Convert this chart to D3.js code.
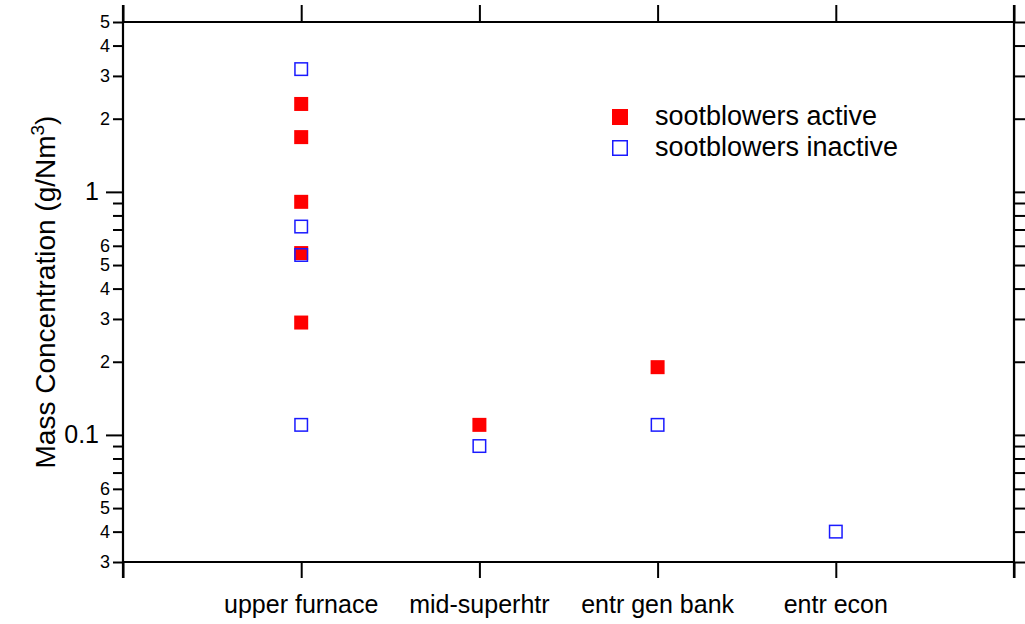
<!DOCTYPE html>
<html lang="en">
<head>
<meta charset="utf-8">
<title>Mass Concentration</title>
<script src="https://cdn.jsdelivr.net/npm/d3@7"></script>
<style>
body { margin: 0; background: white; }
text { font-family: "Liberation Sans", Arial, Helvetica, sans-serif; fill: black; }
</style>
</head>
<body>
<script>
// categories along the x axis
var categories = ["upper furnace", "mid-superhtr", "entr gen bank", "entr econ"];

// sootblowers active (filled red)
var activeCat = ["upper furnace", "upper furnace", "upper furnace", "upper furnace", "upper furnace", "mid-superhtr", "entr gen bank"];
var activeVal = [2.3, 1.68, 0.91, 0.56, 0.29, 0.11, 0.19];

// sootblowers inactive (open blue)
var inactiveCat = ["upper furnace", "upper furnace", "upper furnace", "upper furnace", "mid-superhtr", "entr gen bank", "entr econ"];
var inactiveVal = [3.2, 0.72, 0.55, 0.11, 0.09, 0.11, 0.04];

var yTicks = [0.03, 0.04, 0.05, 0.06, 0.07, 0.08, 0.09, 0.1, 0.2, 0.3, 0.4, 0.5, 0.6, 0.7, 0.8, 0.9, 1, 2, 3, 4, 5];

var w = 1025, h = 624;
var padL = 123, padR = 1014, padT = 22, padB = 562;

var svg = d3.select("body").append("svg")
	.attr("width", w)
	.attr("height", h);

var xScale = d3.scaleLinear().domain([0, categories.length + 1]).range([padL, padR]);
var yScale = d3.scaleLog().domain([0.03, 5]).range([padB, padT]);

function catX(c) { return xScale(categories.indexOf(c) + 1); }

function isMajor(v) { return Math.abs(Math.log10(v) - Math.round(Math.log10(v))) < 1e-9; }
function leading(v) { return Math.round(v / Math.pow(10, Math.floor(Math.log10(v) + 1e-9))); }

//x axes top and bottom
var xt = d3.range(0, categories.length + 2);
svg.append("g")
	.attr("transform", "translate(0," + padB + ")")
	.call(d3.axisBottom(xScale).tickValues(xt).tickSize(16).tickFormat(""))
	.call(g => g.select(".domain").remove());
svg.append("g")
	.attr("transform", "translate(0," + padT + ")")
	.call(d3.axisTop(xScale).tickValues(xt).tickSize(17).tickFormat(""))
	.call(g => g.select(".domain").remove());

//y axis left
var yl = svg.append("g")
	.attr("transform", "translate(" + padL + ",0)")
	.call(d3.axisLeft(yScale).tickValues(yTicks).tickFormat(function(d) {
		if (isMajor(d)) return d;
		var l = leading(d);
		return l >= 7 ? "" : l;
	}))
	.call(g => g.select(".domain").remove());
yl.selectAll(".tick line")
	.attr("x2", d => isMajor(d) ? -17 : -10);
yl.selectAll(".tick text")
	.attr("x", d => isMajor(d) ? -24 : -13)
	.style("font-size", d => isMajor(d) ? "25px" : "18px")
	.style("font-family", "Liberation Sans, Arial, sans-serif");

//y axis right
svg.append("g")
	.attr("transform", "translate(" + padR + ",0)")
	.call(d3.axisRight(yScale).tickValues(yTicks).tickSize(11).tickFormat(""))
	.call(g => g.select(".domain").remove());

//frame
svg.append("line").attr("x1", padL).attr("x2", padR).attr("y1", padT).attr("y2", padT);
svg.append("line").attr("x1", padL).attr("x2", padR).attr("y1", padB).attr("y2", padB);
svg.append("line").attr("x1", padL).attr("x2", padL).attr("y1", padT - 17).attr("y2", padB + 16);
svg.append("line").attr("x1", padR).attr("x2", padR).attr("y1", padT - 17).attr("y2", padB + 16);
svg.selectAll("line").attr("stroke", "black").attr("stroke-width", 2.2);
svg.selectAll(".tick line").attr("stroke-width", 2);

//category labels
svg.selectAll(".catlabel")
	.data(categories)
	.enter()
	.append("text")
	.attr("class", "catlabel")
	.attr("x", d => catX(d))
	.attr("y", 613)
	.attr("text-anchor", "middle")
	.style("font-size", "25px")
	.text(d => d);

//y title
var yt = svg.append("text")
	.attr("transform", "translate(55,292) rotate(-90)")
	.attr("text-anchor", "middle")
	.style("font-size", "28px");
yt.append("tspan").text("Mass Concentration (g/Nm");
yt.append("tspan").attr("dy", -11).style("font-size", "19px").text("3");
yt.append("tspan").attr("dy", 11).text(")");

var ms = 14;

//active markers
svg.selectAll(".act")
	.data(activeVal)
	.enter()
	.append("rect")
	.attr("class", "act")
	.attr("x", (d, i) => catX(activeCat[i]) - ms / 2)
	.attr("y", d => yScale(d) - ms / 2)
	.attr("width", ms)
	.attr("height", ms)
	.attr("fill", "#ff0000");

//inactive markers
svg.selectAll(".inact")
	.data(inactiveVal)
	.enter()
	.append("rect")
	.attr("class", "inact")
	.attr("x", (d, i) => catX(inactiveCat[i]) - ms / 2 + 0.75)
	.attr("y", d => yScale(d) - ms / 2 + 0.75)
	.attr("width", ms - 1.5)
	.attr("height", ms - 1.5)
	.attr("fill", "none")
	.attr("stroke", "#1a1aff")
	.attr("stroke-width", 1.5);

//legend
var lg = svg.append("g");
lg.append("rect").attr("x", 612).attr("y", 109).attr("width", 16).attr("height", 16).attr("fill", "#ff0000");
lg.append("rect").attr("x", 612.75).attr("y", 140.75).attr("width", 14.5).attr("height", 14.5)
	.attr("fill", "none").attr("stroke", "#1a1aff").attr("stroke-width", 1.5);
lg.append("text").attr("x", 655).attr("y", 125).style("font-size", "27px").text("sootblowers active");
lg.append("text").attr("x", 655).attr("y", 156).style("font-size", "27px").text("sootblowers inactive");
</script>
</body>
</html>
